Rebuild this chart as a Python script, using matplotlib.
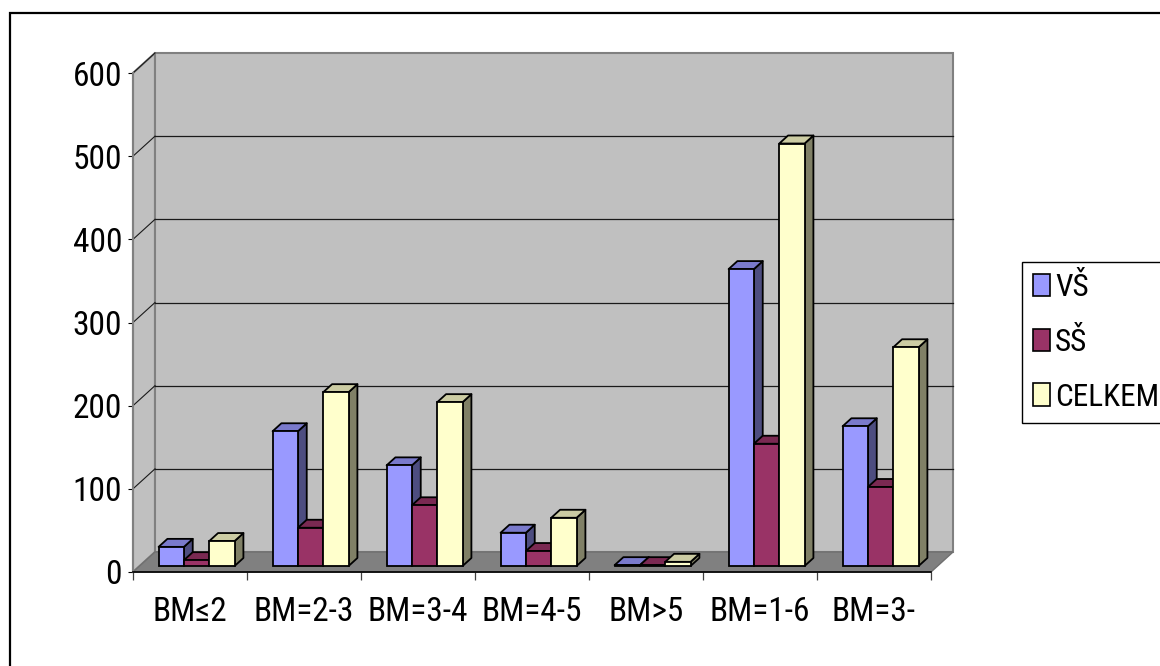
import matplotlib
matplotlib.use("Agg")
import matplotlib.pyplot as plt
from matplotlib import font_manager
from matplotlib.patches import Polygon, Rectangle
from matplotlib.lines import Line2D
import numpy as np

# ---- data ----
categories = ["BM≤2", "BM=2-3", "BM=3-4", "BM=4-5", "BM>5", "BM=1-6", "BM=3-"]
vs_values = [23, 162, 121, 40, 1, 357, 168]
ss_values = [7, 46, 73, 18, 1, 147, 95]
celkem_values = [30, 209, 197, 58, 5, 508, 263]
series_names = ["VŠ", "SŠ", "CELKEM"]
y_ticks = [0, 100, 200, 300, 400, 500, 600]

series_values = [vs_values, ss_values, celkem_values]
front_colors = ["#9999FF", "#993366", "#FFFFCC"]

# ---- fonts: a narrow grotesque if one is available ----
installed = {f.name for f in font_manager.fontManager.ttflist}
candidates = ["Liberation Sans Narrow", "Nimbus Sans Narrow", "Arial Narrow",
              "Roboto Condensed", "Archivo Narrow", "PT Sans Narrow", "Liberation Sans"]
narrow = next(f for f in candidates if f in installed)
plt.rcParams["font.family"] = [narrow, "DejaVu Sans"]
FS = 24
FS_LEG = 22.5


def shade(hex_color, k):
    rgb = np.array(matplotlib.colors.to_rgb(hex_color)) * k
    return tuple(np.clip(rgb, 0, 1))


W, H = 1160, 666
fig = plt.figure(figsize=(W / 100, H / 100), dpi=100)
fig.patch.set_facecolor("white")

# outer chart-area frame (runs off the right and bottom edges)
fig.patches.append(Rectangle((10 / W, -0.1), 1.2, (H - 13) / H + 0.1,
                             transform=fig.transFigure, fill=False,
                             edgecolor="black", linewidth=1.6))

# front plane of the 3-D plot area
x0_px, x1_px, y0_px, y1_px = 133, 931, 572, 73
ax = fig.add_axes([x0_px / W, (H - y0_px) / H, (x1_px - x0_px) / W, (y0_px - y1_px) / H])
n = len(categories)
ymax = y_ticks[-1]
ax.set_xlim(0, n)
ax.set_ylim(0, ymax)
ax.set_facecolor("none")

# depth of the plot box (pixels -> data units)
px_per_x = (x1_px - x0_px) / n
px_per_y = (y0_px - y1_px) / ymax
DX = 22 / px_per_x
DY = 20 / px_per_y

wall = "#C0C0C0"
edge = "#808080"

# side wall, back wall and floor
ax.add_patch(Polygon([(0, 0), (0, ymax), (DX, ymax + DY), (DX, DY)], closed=True,
                     facecolor=wall, edgecolor=edge, linewidth=1.5, zorder=1, clip_on=False))
ax.add_patch(Polygon([(DX, DY), (DX, ymax + DY), (n + DX, ymax + DY), (n + DX, DY)], closed=True,
                     facecolor=wall, edgecolor=edge, linewidth=1.5, zorder=1, clip_on=False))
ax.add_patch(Polygon([(0, 0), (n, 0), (n + DX, DY), (DX, DY)], closed=True,
                     facecolor="#808080", edgecolor="#707070", linewidth=1.0, zorder=1.5, clip_on=False))

# gridlines on the back wall and their diagonals on the side wall
for t in y_ticks[1:]:
    if t < ymax:
        ax.add_line(Line2D([DX, n + DX], [t + DY, t + DY], color="#1a1a1a", linewidth=0.9,
                           zorder=2, clip_on=False))
    ax.add_line(Line2D([0, DX], [t, t + DY], color="#1a1a1a", linewidth=0.8, zorder=2, clip_on=False))

# bars: gap width 150 %, bars sit between 30 % and 70 % of the depth
w = 1 / 4.5
f_front, f_back = 0.3, 0.7
sx, sy = f_front * DX, f_front * DY
ddx, ddy = (f_back - f_front) * DX, (f_back - f_front) * DY
idx = np.arange(n)
for j, (vals, col) in enumerate(zip(series_values, front_colors)):
    lefts = idx + 0.75 * w + j * w + sx
    for xl, v in zip(lefts, vals):
        top = sy + v
        xr = xl + w
        ax.add_patch(Polygon([(xr, sy), (xr, top), (xr + ddx, top + ddy), (xr + ddx, sy + ddy)],
                             closed=True, facecolor=shade(col, 0.5), edgecolor="black",
                             linewidth=1.3, zorder=4, clip_on=False, joinstyle="round"))
        ax.add_patch(Polygon([(xl, top), (xr, top), (xr + ddx, top + ddy), (xl + ddx, top + ddy)],
                             closed=True, facecolor=shade(col, 0.8), edgecolor="black",
                             linewidth=1.3, zorder=4, clip_on=False, joinstyle="round"))
    ax.bar(lefts, vals, width=w, bottom=sy, align="edge", color=col, edgecolor="black",
           linewidth=1.3, zorder=5, clip_on=False, label=series_names[j])

# axes styling
for s in ["top", "right"]:
    ax.spines[s].set_visible(False)
ax.spines["left"].set_color(edge)
ax.spines["left"].set_linewidth(1.5)
ax.spines["bottom"].set_color("black")
ax.spines["bottom"].set_linewidth(1.2)
ax.spines["left"].set_zorder(3)
ax.spines["bottom"].set_zorder(3)

ax.set_yticks(y_ticks)
ax.set_yticklabels([str(t) for t in y_ticks], fontsize=FS)
ax.tick_params(axis="y", direction="out", length=3.6, width=0.8, color="black", pad=4.3)

ax.set_xticks(np.arange(n + 1))
ax.set_xticklabels([])
ax.set_xticks(idx + 0.5, minor=True)
ax.set_xticklabels(categories, minor=True, fontsize=FS)
ax.tick_params(axis="x", which="major", direction="out", length=5.8, width=0.9, color="#404040")
ax.tick_params(axis="x", which="minor", length=0, pad=17)

# legend
handles = [Rectangle((0, 0), 1, 1, facecolor=c, edgecolor="black", linewidth=1.2) for c in front_colors]
fig.legend(handles, series_names, loc="upper left", bbox_to_anchor=(1022 / W, 1 - 262 / H),
           bbox_transform=fig.transFigure, borderaxespad=0, fontsize=FS_LEG, frameon=True,
           fancybox=False, edgecolor="black", framealpha=1, handlelength=0.52, handleheight=0.72,
           handletextpad=0.18, labelspacing=0.82, borderpad=0.36)
fig.legends[0].get_frame().set_linewidth(1.0)

fig.savefig("out.png", dpi=100)
